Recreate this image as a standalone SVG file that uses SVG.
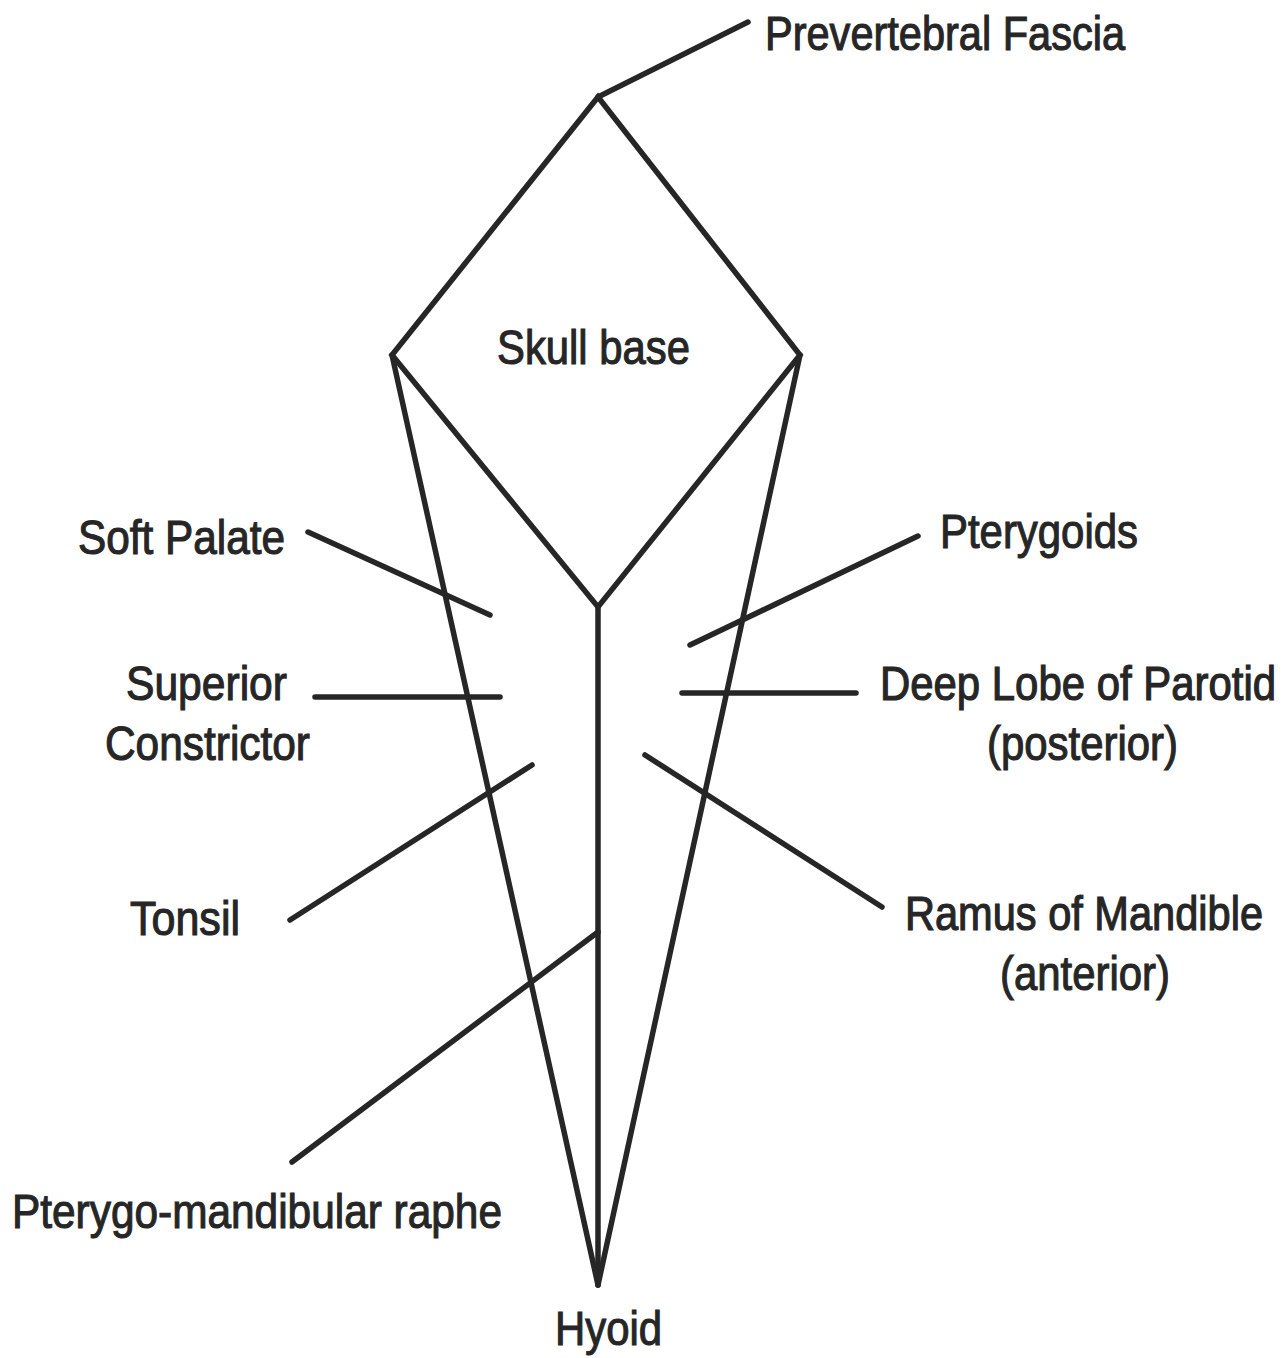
<svg xmlns="http://www.w3.org/2000/svg" width="1287" height="1358" viewBox="0 0 1287 1358">
<style>
.ln{stroke:#262626;stroke-width:5.5;fill:none;stroke-linecap:round;stroke-linejoin:miter}
.t{font-family:"Liberation Sans",Arial,sans-serif;font-size:48px;fill:#262626;stroke:#262626;stroke-width:1.1}
.s{font-size:40px;stroke-width:1}
</style>
<rect width="1287" height="1358" fill="#ffffff"/>
<g id="connectors">
<polygon class="ln" points="598,97 800,355 598,607 392,355"/>
<line class="ln" x1="598" y1="607" x2="598" y2="1285"/>
<line class="ln" x1="392" y1="355" x2="598" y2="1285"/>
<line class="ln" x1="800" y1="355" x2="598" y2="1285"/>
<line class="ln" x1="598" y1="97" x2="748" y2="22"/>
<line class="ln" x1="308" y1="532" x2="490" y2="615"/>
<line class="ln" x1="315" y1="697" x2="500" y2="697"/>
<line class="ln" x1="290" y1="920" x2="532" y2="765"/>
<line class="ln" x1="292" y1="1162" x2="598" y2="932"/>
<line class="ln" x1="690" y1="645" x2="918" y2="536"/>
<line class="ln" x1="682" y1="693" x2="856" y2="693"/>
<line class="ln" x1="645" y1="755" x2="882" y2="907"/>
</g>
<g id="prevertebral-fascia"><text class="t" x="765" y="50" textLength="360" lengthAdjust="spacingAndGlyphs">Prevertebral Fascia</text></g>
<g id="skull-base"><text class="t" x="497" y="364" textLength="193" lengthAdjust="spacingAndGlyphs">Skull base</text></g>
<g id="soft-palate"><text class="t" x="78" y="554" textLength="207" lengthAdjust="spacingAndGlyphs">Soft Palate</text></g>
<g id="pterygoids"><text class="t" x="940" y="548" textLength="198" lengthAdjust="spacingAndGlyphs">Pterygoids</text></g>
<g id="superior-constrictor">
<text class="t" x="126" y="700" textLength="161" lengthAdjust="spacingAndGlyphs">Superior</text>
<text class="t" x="105" y="760" textLength="205" lengthAdjust="spacingAndGlyphs">Constrictor</text>
</g>
<g id="deep-lobe-parotid">
<text class="t s" transform="translate(880,700) scale(1,1.2)" x="0" y="0" textLength="396" lengthAdjust="spacingAndGlyphs">Deep Lobe of Parotid</text>
<text class="t" x="987" y="760" textLength="191" lengthAdjust="spacingAndGlyphs">(posterior)</text>
</g>
<g id="tonsil"><text class="t" x="130" y="935" textLength="110" lengthAdjust="spacingAndGlyphs">Tonsil</text></g>
<g id="ramus-mandible">
<text class="t s" transform="translate(905,930) scale(1,1.2)" x="0" y="0" textLength="358" lengthAdjust="spacingAndGlyphs">Ramus of Mandible</text>
<text class="t" x="1000" y="990" textLength="170" lengthAdjust="spacingAndGlyphs">(anterior)</text>
</g>
<g id="pterygo-mandibular-raphe"><text class="t" x="12" y="1228" textLength="490" lengthAdjust="spacingAndGlyphs">Pterygo-mandibular raphe</text></g>
<g id="hyoid"><text class="t" x="555" y="1345" textLength="107" lengthAdjust="spacingAndGlyphs">Hyoid</text></g>
</svg>
